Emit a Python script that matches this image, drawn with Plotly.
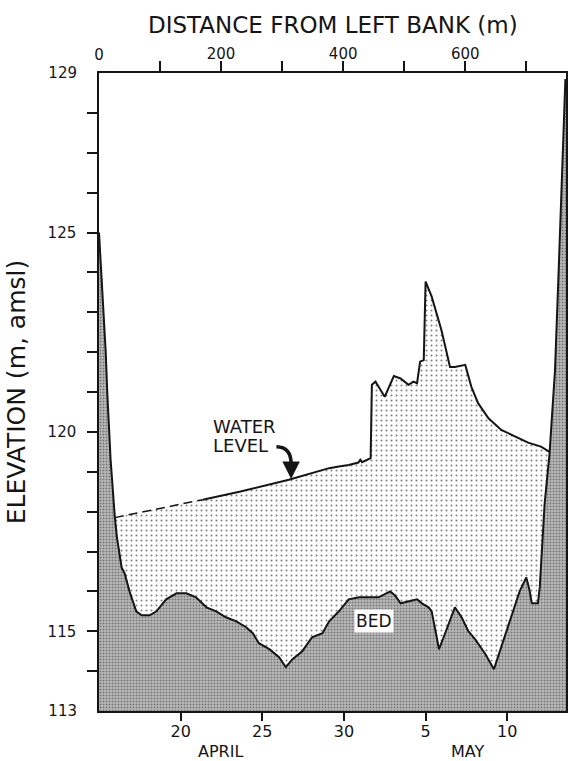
import plotly.graph_objects as go

# ---------------- data ----------------
# Bed / bank profile (distance from left bank in m, elevation in m amsl)
BED_DIST = [0, 4, 7, 11, 13.5, 17, 19, 26, 29, 37,
            42, 50, 61, 70, 83, 94, 110, 127, 143, 159,
            176, 192, 208, 225, 241, 252, 262, 279, 295, 306,
            317, 333, 349, 366, 377, 393, 409, 426, 458, 477,
            485, 494, 507, 521, 529, 540, 545, 551, 557, 567,
            583, 594, 605, 616, 632, 647, 659, 673, 689, 700,
            705, 709, 719, 722, 730, 738, 747, 753, 764]
BED_ELEV = [125.0, 124.0, 123.0, 122.0, 121.0, 120.0, 119.3, 117.85, 117.4, 116.6,
            116.45, 116.0, 115.5, 115.4, 115.4, 115.5, 115.8, 115.95, 115.95, 115.85,
            115.6, 115.5, 115.35, 115.25, 115.1, 114.95, 114.7, 114.55, 114.35, 114.1,
            114.3, 114.5, 114.85, 114.95, 115.25, 115.5, 115.8, 115.85, 115.85, 116.0,
            115.9, 115.7, 115.75, 115.8, 115.7, 115.6, 115.5, 115.0, 114.55, 114.95,
            115.6, 115.35, 115.0, 114.8, 114.45, 114.05, 114.6, 115.3, 116.0, 116.35,
            116.05, 115.7, 115.7, 116.1, 118.2, 119.45, 121.55, 124.05, 128.85]

# Water level / top surface
SURF_DIST = [26, 170, 230, 311, 377, 393, 409, 425, 428, 431,
             445, 447, 453, 458, 468, 483, 494, 507, 515, 521,
             526, 532, 535, 545, 561, 575, 583, 600, 610, 621,
             638, 659, 681, 703, 724, 738]
SURF_ELEV = [117.85, 118.3, 118.5, 118.8, 119.09, 119.13, 119.17, 119.23, 119.30, 119.24,
             119.34, 121.18, 121.26, 121.13, 120.88, 121.40, 121.34, 121.18, 121.26, 121.22,
             121.76, 121.80, 123.77, 123.39, 122.55, 121.63, 121.63, 121.68, 121.13, 120.72,
             120.34, 120.05, 119.88, 119.73, 119.63, 119.50]
DASHED_END = 170  # water level shown dashed up to this distance

# Axes
DIST_RANGE = [0, 765]
ELEV_RANGE = [113, 129]
DIST_TICKS = [0, 100, 200, 300, 400, 500, 600, 700]
DIST_LABELS = ["0", "", "200", "", "400", "", "600", ""]
ELEV_TICKS = list(range(113, 130))
ELEV_LABELS = [str(v) if v in (113, 115, 120, 125, 129) else "" for v in ELEV_TICKS]
DAY_RANGE = [0, 28.6]               # days since 15 April
DAY_TICKS = [5, 10, 15, 20, 25]
DAY_LABELS = ["20", "25", "30", "5", "10"]
MONTHS = [("APRIL", 7.47), ("MAY", 22.6)]

FONT = "DejaVu Sans"
INK = "#151515"

fig = go.Figure()

# bed / banks fill (dark halftone)
bed_x = BED_DIST + [DIST_RANGE[1], DIST_RANGE[1], DIST_RANGE[0]]
bed_y = BED_ELEV + [BED_ELEV[-1], ELEV_RANGE[0], ELEV_RANGE[0]]
fig.add_trace(go.Scatter(x=bed_x, y=bed_y, mode="none", fill="toself",
                         fillpattern=dict(shape=".", size=3, solidity=0.4,
                                          fgcolor="#333333", bgcolor="#bcbcbc"),
                         hoverinfo="skip", showlegend=False))

# stippled water body
lo, hi = SURF_DIST[0], SURF_DIST[-1]
seg = [(d, e) for d, e in zip(BED_DIST, BED_ELEV) if lo <= d <= hi]
wx = SURF_DIST + [d for d, _ in reversed(seg)]
wy = SURF_ELEV + [e for _, e in reversed(seg)]
fig.add_trace(go.Scatter(x=wx, y=wy, mode="none", fill="toself",
                         fillpattern=dict(shape=".", size=5, solidity=0.13,
                                          fgcolor="#000000", bgcolor="#ffffff"),
                         hoverinfo="skip", showlegend=False))

# bed outline
fig.add_trace(go.Scatter(x=BED_DIST, y=BED_ELEV, mode="lines",
                         line=dict(color=INK, width=2),
                         hoverinfo="skip", showlegend=False))

# water level: dashed then solid
dx = [d for d in SURF_DIST if d <= DASHED_END]
dy = [e for d, e in zip(SURF_DIST, SURF_ELEV) if d <= DASHED_END]
sx = [d for d in SURF_DIST if d >= DASHED_END]
sy = [e for d, e in zip(SURF_DIST, SURF_ELEV) if d >= DASHED_END]
fig.add_trace(go.Scatter(x=dx, y=dy, mode="lines",
                         line=dict(color=INK, width=1.5, dash="9px,5px"),
                         hoverinfo="skip", showlegend=False))
fig.add_trace(go.Scatter(x=sx, y=sy, mode="lines",
                         line=dict(color=INK, width=2),
                         hoverinfo="skip", showlegend=False))

# helper invisible traces to register the overlay axes
fig.add_trace(go.Scatter(x=DAY_RANGE, y=ELEV_RANGE, xaxis="x2", yaxis="y",
                         mode="markers", marker=dict(opacity=0),
                         hoverinfo="skip", showlegend=False))
fig.add_trace(go.Scatter(x=DIST_RANGE, y=ELEV_RANGE, xaxis="x3", yaxis="y",
                         mode="markers", marker=dict(opacity=0),
                         hoverinfo="skip", showlegend=False))
fig.add_trace(go.Scatter(x=DIST_RANGE, y=ELEV_RANGE, xaxis="x", yaxis="y2",
                         mode="markers", marker=dict(opacity=0),
                         hoverinfo="skip", showlegend=False))

tickfont = dict(family=FONT, size=15, color=INK)
common = dict(showgrid=False, zeroline=False)

fig.update_layout(
    width=569, height=761,
    margin=dict(l=99, r=1, t=73, b=50),
    paper_bgcolor="white", plot_bgcolor="white",
    font=dict(family=FONT, color=INK),
    xaxis=dict(side="top", range=DIST_RANGE, tickmode="array",
               tickvals=DIST_TICKS[1:], ticktext=DIST_LABELS[1:],
               ticks="outside", ticklen=10, tickwidth=1.5, tickcolor=INK,
               ticklabelstandoff=-4,
               showline=True, linewidth=1.5, linecolor=INK, mirror=True,
               tickfont=tickfont, **common),
    xaxis3=dict(side="top", overlaying="x", anchor="y", range=DIST_RANGE,
                tickmode="array", tickvals=DIST_TICKS[:1], ticktext=DIST_LABELS[:1],
                ticks="outside", ticklen=10, tickcolor="rgba(0,0,0,0)",
                ticklabelstandoff=-4, showline=False, tickfont=tickfont, **common),
    xaxis2=dict(side="bottom", overlaying="x", anchor="y", range=DAY_RANGE,
                tickmode="array", tickvals=DAY_TICKS, ticktext=DAY_LABELS,
                ticks="outside", ticklen=9, tickwidth=1.5, tickcolor=INK,
                ticklabelstandoff=-3, showline=False,
                tickfont=dict(family=FONT, size=16, color=INK), **common),
    yaxis=dict(range=ELEV_RANGE, tickmode="array",
               tickvals=ELEV_TICKS[1:-1], ticktext=ELEV_LABELS[1:-1],
               ticks="outside", ticklen=10, tickwidth=1.5, tickcolor=INK,
               ticklabelstandoff=8,
               showline=True, linewidth=1.5, linecolor=INK, mirror=True,
               tickfont=tickfont,
               title=dict(text="ELEVATION (m, amsl)",
                          font=dict(family=FONT, size=25, color=INK), standoff=15),
               **common),
    yaxis2=dict(overlaying="y", side="left", anchor="x", range=ELEV_RANGE,
                tickmode="array", tickvals=[ELEV_TICKS[0], ELEV_TICKS[-1]],
                ticktext=[ELEV_LABELS[0], ELEV_LABELS[-1]],
                ticks="outside", ticklen=10, tickcolor="rgba(0,0,0,0)",
                ticklabelstandoff=8, showline=False, tickfont=tickfont, **common),
)

ann = []
ann.append(dict(text="DISTANCE FROM LEFT BANK (m)", x=0.5, y=1 + (73 - 25) / 638,
                xref="paper", yref="paper", xanchor="center", yanchor="middle",
                showarrow=False, font=dict(family=FONT, size=23, color=INK)))
ann.append(dict(text="WATER", x=183.7, y=120.13, xref="x", yref="y",
                xanchor="left", yanchor="middle", showarrow=False,
                font=dict(family=FONT, size=18, color=INK)))
ann.append(dict(text="LEVEL", x=183.7, y=119.67, xref="x", yref="y",
                xanchor="left", yanchor="middle", showarrow=False,
                font=dict(family=FONT, size=18, color=INK)))
ann.append(dict(text="", x=314.7, y=118.82, xref="x", yref="y",
                showarrow=True, ax=0, ay=-16, arrowhead=2, arrowsize=1,
                arrowwidth=3.5, arrowcolor=INK, standoff=0))
ann.append(dict(text="BED", x=449.7, y=115.25, xref="x", yref="y",
                xanchor="center", yanchor="middle", showarrow=False,
                bgcolor="white", borderpad=1,
                font=dict(family=FONT, size=17, color=INK)))
for name, pos in MONTHS:
    ann.append(dict(text=name, x=pos, y=-0.064, xref="x2", yref="paper",
                    xanchor="center", yanchor="middle", showarrow=False,
                    font=dict(family=FONT, size=16, color=INK)))
fig.update_layout(annotations=ann)

fig.add_shape(type="path", xref="x", yref="y",
              path="M 290.7,119.63 Q 314.7,119.62 314.7,119.2",
              line=dict(color=INK, width=3.5))

fig.write_html("out.html")
